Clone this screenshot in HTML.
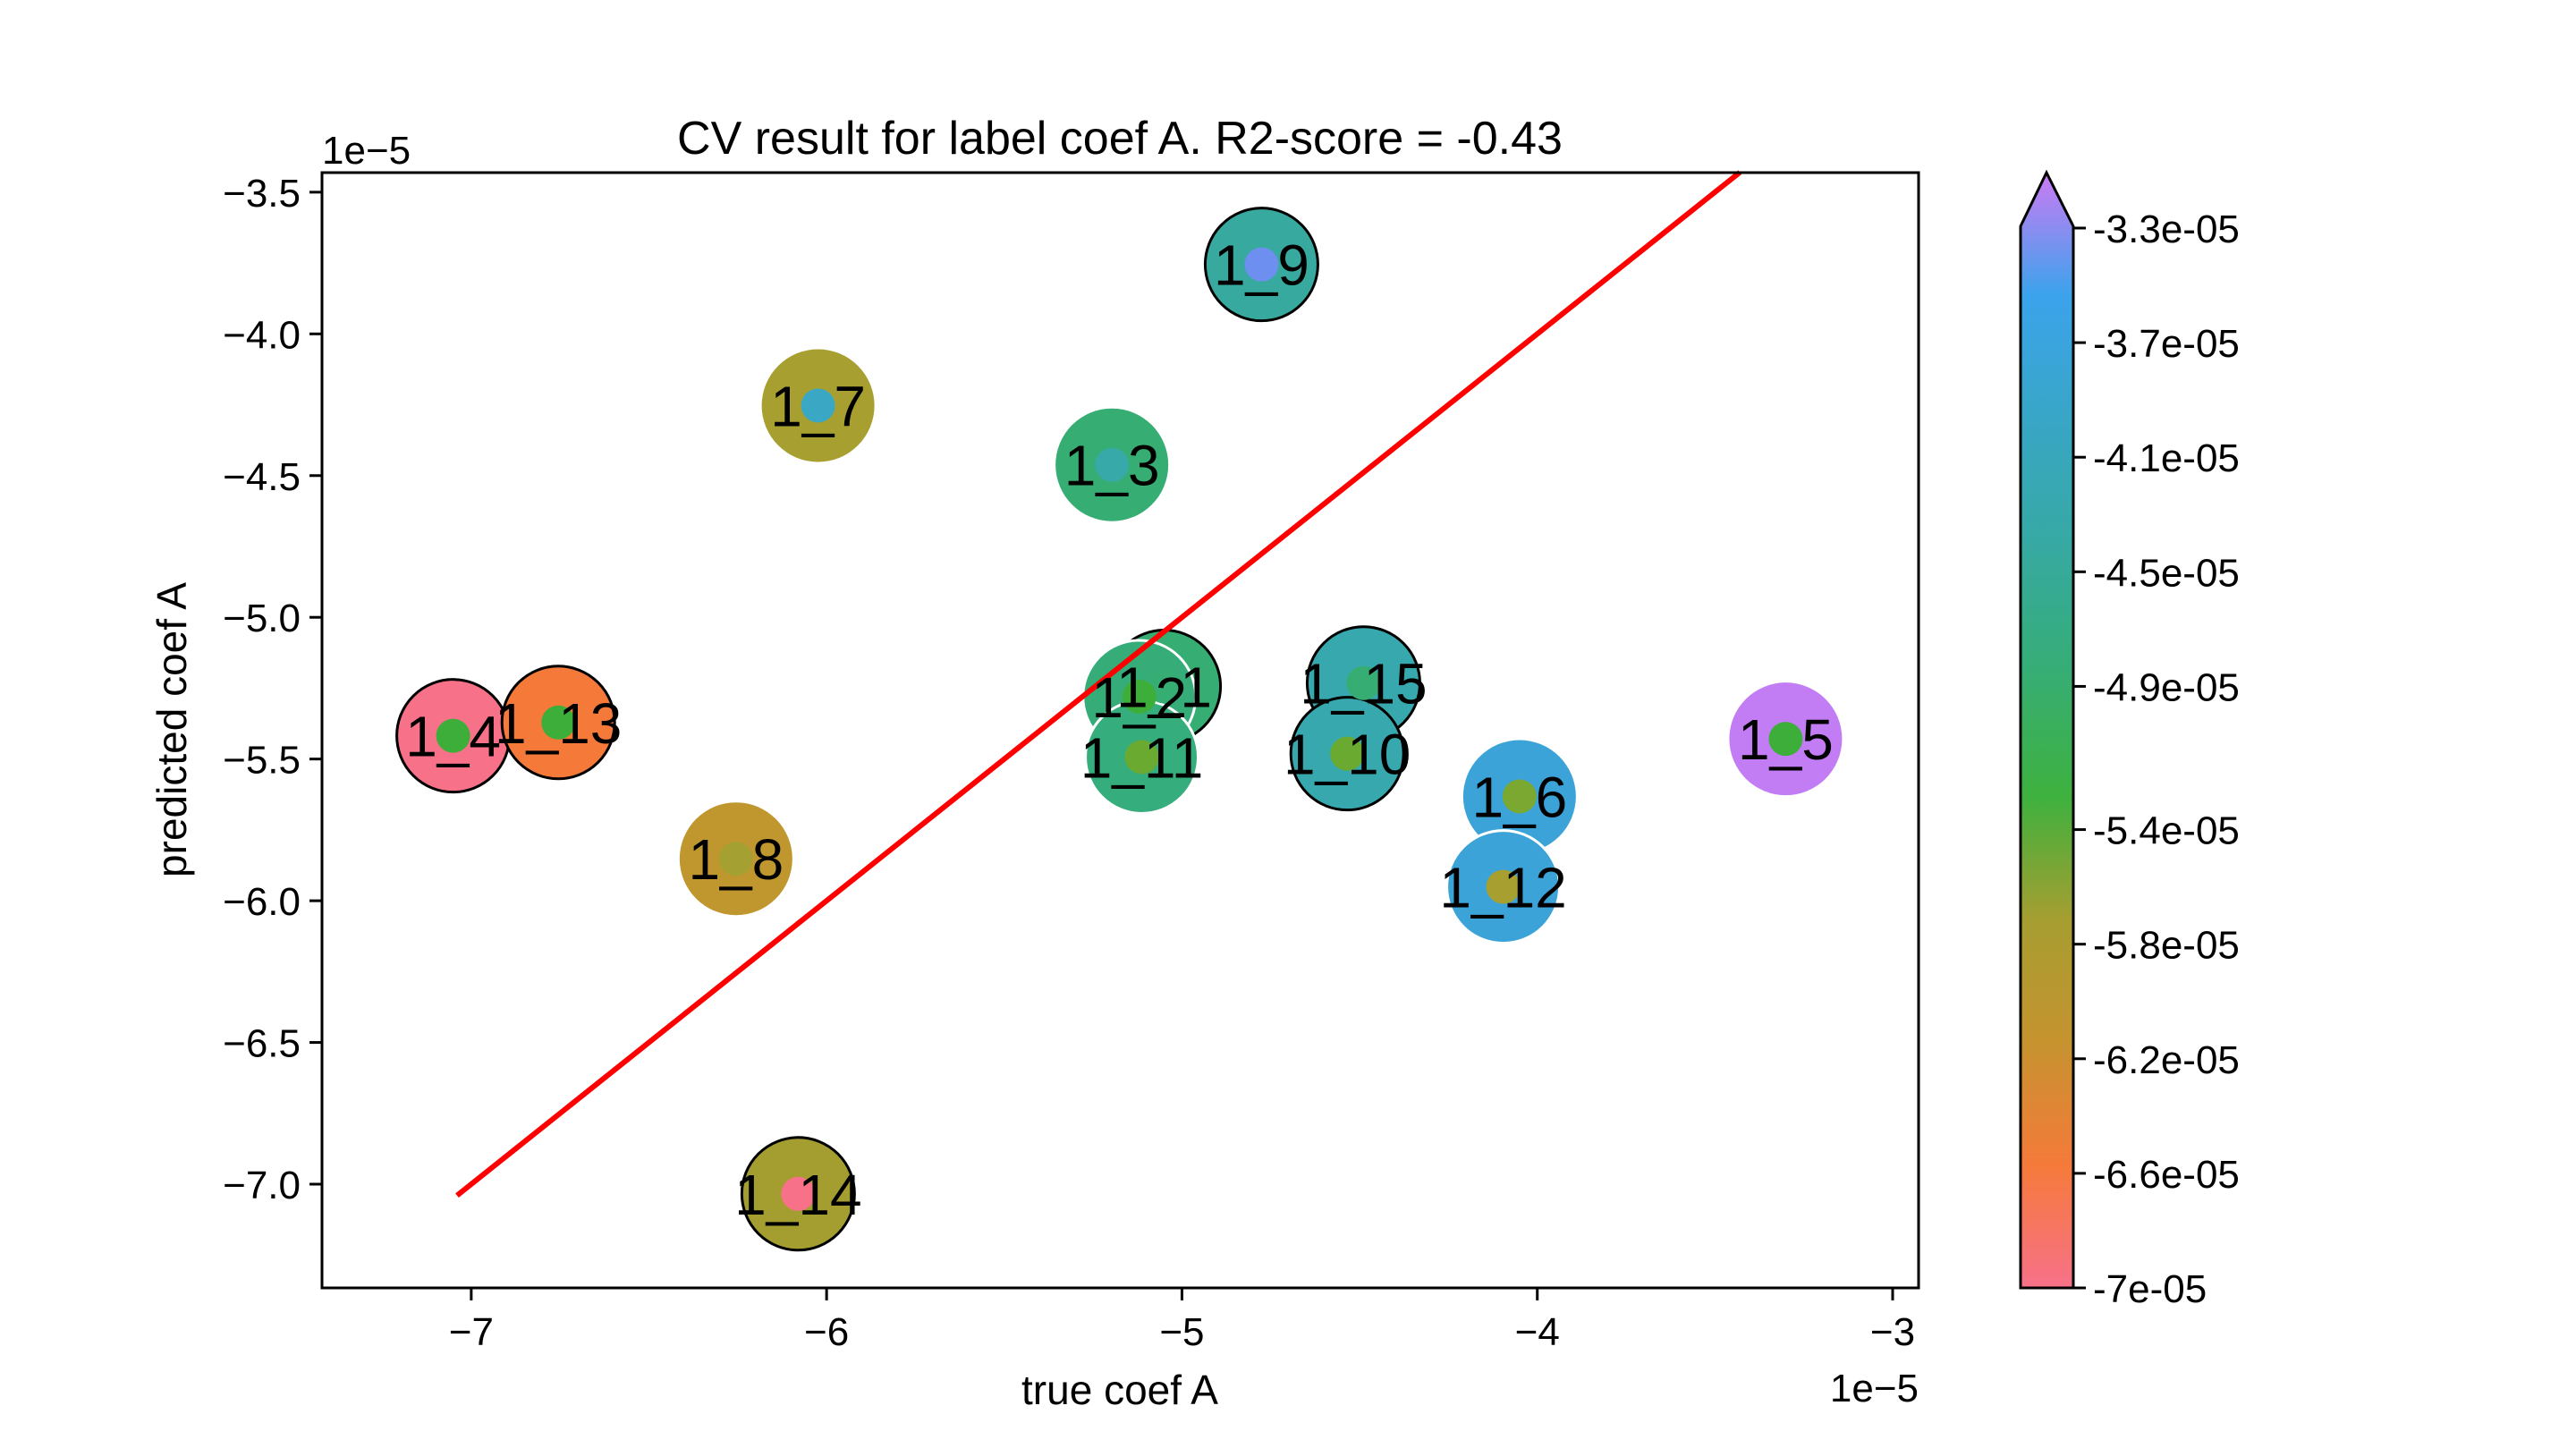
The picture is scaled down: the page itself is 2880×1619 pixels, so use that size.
<!DOCTYPE html>
<html><head><meta charset="utf-8"><style>
html,body{margin:0;padding:0;background:#fff;}
svg{display:block;font-family:"Liberation Sans","DejaVu Sans",sans-serif;}
</style></head>
<body>
<svg id="chart" width="2880" height="1619" viewBox="0 0 2880 1619" xmlns="http://www.w3.org/2000/svg">
<defs>
<linearGradient id="cmap" x1="0" y1="1" x2="0" y2="0">
<stop offset="0" stop-color="#f77189"/>
<stop offset="0.11" stop-color="#f57a3a"/>
<stop offset="0.22" stop-color="#c6932f"/>
<stop offset="0.33" stop-color="#a69e31"/>
<stop offset="0.44" stop-color="#3eb13e"/>
<stop offset="0.56" stop-color="#36ad78"/>
<stop offset="0.67" stop-color="#37a9a4"/>
<stop offset="0.78" stop-color="#38a6c6"/>
<stop offset="0.89" stop-color="#3ba3ec"/>
<stop offset="1" stop-color="#cc7af4"/>
</linearGradient>
</defs>
<text x="1252" y="172" font-size="52" text-anchor="middle">CV result for label coef A. R2-score = -0.43</text>
<g id="marks"></g>
<rect x="360" y="193" width="1785" height="1247" fill="none" stroke="#000" stroke-width="3"/>
<g id="axes"></g>
<text x="360" y="183" font-size="44">1e−5</text>
<text x="2145" y="1567" font-size="44" text-anchor="end">1e−5</text>
<text x="1252" y="1570" font-size="46" text-anchor="middle">true coef A</text>
<text x="0" y="0" font-size="46" text-anchor="middle" transform="translate(208,816) rotate(-90)">predicted coef A</text>
<g id="colorbar">
<path d="M2259,1440 L2259,253 L2288,193 L2318,253 L2318,1440 Z" fill="url(#cmap)" stroke="#000" stroke-width="3"/>
</g>
</svg>
<script>
const names=["1_9","1_7","1_3","1_4","1_13","1_8","1_14","1_1","1_2","1_11","1_15","1_10","1_6","1_12","1_5"];
const trueVals=[-4.776,-6.024,-5.197,-7.051,-6.755,-6.255,-6.080,-5.05,-5.12,-5.113,-4.489,-4.535,-4.050,-4.096,-3.301];
const predVals=[-3.755,-4.253,-4.462,-5.418,-5.371,-5.852,-7.034,-5.244,-5.28,-5.493,-5.232,-5.481,-5.632,-5.951,-5.429];
const fillColors=["#38a99f","#a89f31","#36ad72","#f77189","#f57a3a","#c0962f","#a49e31","#36ad72","#36ad79","#36ad7c","#37a9ae","#37a9ae","#3ba3d8","#3ba3d8","#c27cf4"];
const dotColors=["#6d8ff0","#3aa8c4","#37a9a8","#3eae3a","#3eae3a","#a4a031","#f77189","#36ad72","#3eae3a","#6aaa30","#36ad72","#6aaa30","#7aa830","#a89f31","#3eae3a"];
const edgeColors=["#000","none","none","#000","#000","none","#000","#000","#fff","#fff","#000","#000","none","#fff","none"];
const xTicks=[-7,-6,-5,-4,-3];
const yTicks=[-3.5,-4.0,-4.5,-5.0,-5.5,-6.0,-6.5,-7.0];
const cbTicks=["-3.3e-05","-3.7e-05","-4.1e-05","-4.5e-05","-4.9e-05","-5.4e-05","-5.8e-05","-6.2e-05","-6.6e-05","-7e-05"];
const cbMin=-7e-5, cbMax=-3.3e-5;
const lineStart=-7.04, lineEnd=-3.43;

const X0=-7.420,X1=-2.927,Y0=-7.366,Y1=-3.431;
const L=360,R=2145,T=193,B=1440;
function sx(v){return L+(v-X0)/(X1-X0)*(R-L);}
function sy(v){return B-(v-Y0)/(Y1-Y0)*(B-T);}
const NS="http://www.w3.org/2000/svg";
function mk(tag,attrs,parent){const e=document.createElementNS(NS,tag);for(const k in attrs)e.setAttribute(k,attrs[k]);parent.appendChild(e);return e;}
const marks=document.getElementById('marks');
const axes=document.getElementById('axes');
for(let i=0;i<names.length;i++){
  const c=mk('circle',{cx:sx(trueVals[i]),cy:sy(predVals[i]),r:63,fill:fillColors[i],stroke:edgeColors[i],'stroke-width':edgeColors[i]==='none'?0:3},marks);
  
  
}
for(let i=0;i<names.length;i++){
  const d=mk('circle',{cx:sx(trueVals[i]),cy:sy(predVals[i]),r:19,fill:dotColors[i]},marks);
  
  
}
const ln=mk('line',{x1:sx(lineStart),y1:sy(lineStart),x2:sx(lineEnd),y2:sy(lineEnd),stroke:'#ff0000','stroke-width':6},marks);


for(let i=0;i<names.length;i++){
  const t=mk('text',{x:sx(trueVals[i]),y:sy(predVals[i])+23,'font-size':64,'text-anchor':'middle'},marks);
  t.textContent=names[i];
  
  
}
for(const v of xTicks){
  const tk=mk('line',{x1:sx(v),y1:B,x2:sx(v),y2:B+14,stroke:'#000','stroke-width':3},axes);
  
  
  const t=mk('text',{x:sx(v),y:B+64,'font-size':44,'text-anchor':'middle'},axes);
  t.textContent='−'+Math.abs(v);
  
  
}
for(const v of yTicks){
  const tk=mk('line',{x1:L-14,y1:sy(v),x2:L,y2:sy(v),stroke:'#000','stroke-width':3},axes);
  
  
  const t=mk('text',{x:L-24,y:sy(v)+16,'font-size':44,'text-anchor':'end'},axes);
  t.textContent='−'+Math.abs(v).toFixed(1);
  
  
}
const cb=document.getElementById('colorbar');
const cbTop=255,cbBot=1440;
for(let i=0;i<cbTicks.length;i++){
  const v=parseFloat(cbTicks[i]);
  const y=cbBot-(v-cbMin)/(cbMax-cbMin)*(cbBot-cbTop);
  const tk=mk('line',{x1:2318,y1:y,x2:2332,y2:y,stroke:'#000','stroke-width':3},cb);
  
  
  const t=mk('text',{x:2340,y:y+16,'font-size':44},cb);
  t.textContent=cbTicks[i];
  
  
}
</script>
</body></html>
